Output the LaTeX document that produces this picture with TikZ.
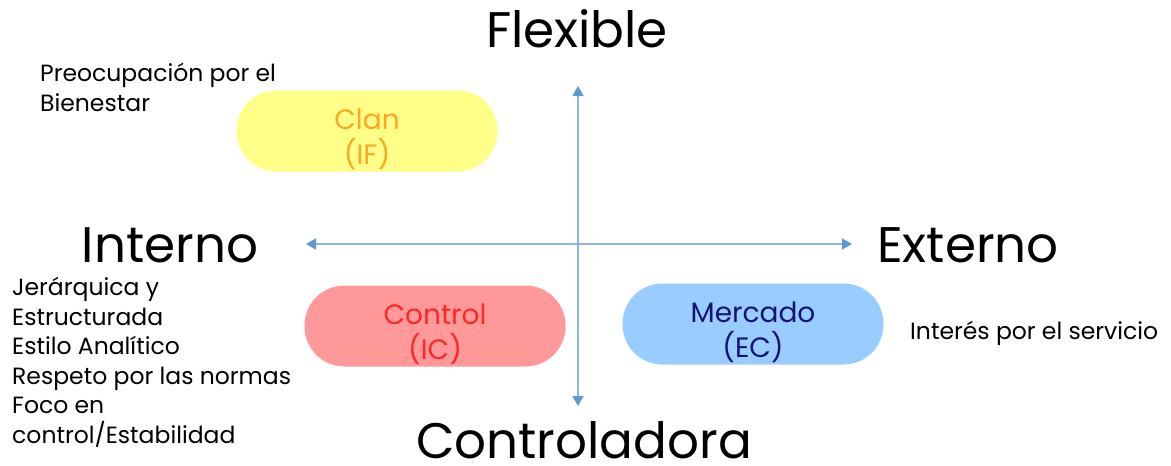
\documentclass[tikz,border=0pt]{standalone}
\usepackage{fontspec}
\setmainfont{Poppins}
\usetikzlibrary{arrows.meta}
\definecolor{axis}{RGB}{91,155,213}
\definecolor{axisline}{RGB}{140,185,228}
\definecolor{clanfill}{RGB}{255,255,136}
\definecolor{clantext}{RGB}{255,165,32}
\definecolor{ctrlfill}{RGB}{255,153,153}
\definecolor{ctrltext}{RGB}{255,40,40}
\definecolor{mercfill}{RGB}{153,204,255}
\definecolor{merctext}{RGB}{20,20,120}
\tikzset{
  pill/.style={rounded corners=40pt, minimum width=261pt, minimum height=81pt, inner sep=0pt},
  pilltext/.style={font=\fontsize{28}{35}\selectfont, align=center, inner sep=0pt, yshift=-8pt},
  axlabel/.style={font=\fontsize{50}{54}\selectfont, inner sep=0pt, anchor=base},
  note/.style={font=\fontsize{23.5}{29.6}\selectfont, align=left, inner sep=0pt, anchor=north west},
  axarrow/.style={draw=axisline, line width=1.6pt, {Triangle[width=11pt,length=10pt,color=axis]}-{Triangle[width=11pt,length=10pt,color=axis]}}
}
\begin{document}
\begin{tikzpicture}[x=1pt,y=-1pt]
\useasboundingbox (0,0) rectangle (1171,466);
\coordinate (top) at (578,86);
\coordinate (bot) at (578,406);
\coordinate (lft) at (306,244);
\coordinate (rgt) at (852,244);
\draw[axarrow] (bot) -- (top);
\draw[axarrow] (lft) -- (rgt);
\node[axlabel] (flex) at (577,47) {Flexible};
\node[axlabel] (intn) at (170,262) {Interno};
\node[axlabel] (extn) at (968,262) {Externo};
\node[axlabel] (ctrl) at (584,458) {Controladora};
\node[pill, fill=clanfill, label={[pilltext, text=clantext]center:Clan\\(IF)}] (clan) at (367,131) {};
\node[pill, fill=ctrlfill, label={[pilltext, text=ctrltext]center:Control\\(IC)}] (control) at (435,326) {};
\node[pill, fill=mercfill, label={[pilltext, text=merctext]center:Mercado\\(EC)}] (merc) at (753,324) {};
\node[note] (preo) at (40,63) {Preocupación por el\\Bienestar};
\node[note, anchor=base west] (serv) at (910,339) {Interés por el servicio};
\node[note] (list) at (12,277) {Jerárquica y\\Estructurada\\Estilo Analítico\\Respeto por las normas\\Foco en\\control/Estabilidad};
\end{tikzpicture}
\end{document}
